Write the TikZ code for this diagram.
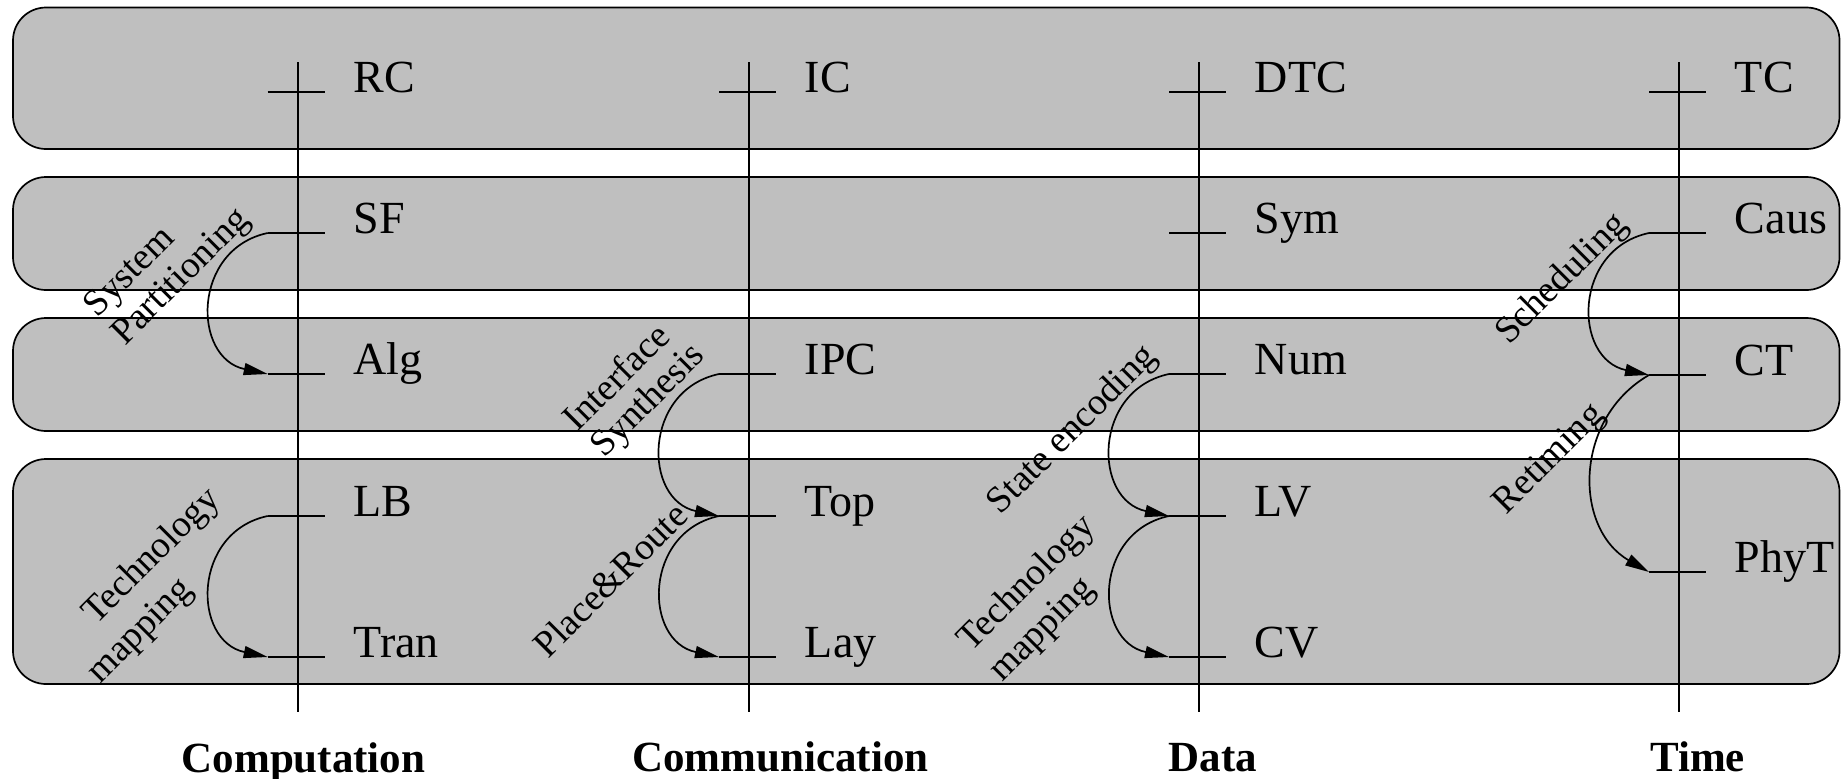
\documentclass[tikz,border=0pt]{standalone}
\usepackage{fontspec}
\setmainfont{Liberation Serif}
\usetikzlibrary{arrows.meta}
\definecolor{bandgray}{RGB}{191,191,191}
\begin{document}
\begin{tikzpicture}[x=0.5pt,y=0.5pt,
  band/.style={draw=black, fill=bandgray, line width=0.85pt, rounded corners=16.5pt},
  axisline/.style={draw=black, line width=0.85pt},
  tickline/.style={draw=black, line width=0.85pt},
  flow/.style={draw=black, line width=0.85pt, -{Triangle[length=12pt,width=6pt]}},
  lbl/.style={anchor=base west, inner sep=0pt, font=\fontsize{23}{27}\selectfont},
  rot/.style={rotate=45, anchor=center, inner sep=0pt, font=\fontsize{18.75}{22}\selectfont},
  dimlbl/.style={anchor=base, inner sep=0pt, font=\fontsize{21.5}{26}\selectfont\bfseries}]
\useasboundingbox (0,0) rectangle (1841,-778);

% bands
\path[band] (13,-7.5) rectangle (1839.5,-149);
\path[band] (13,-177) rectangle (1839.5,-290);
\path[band] (13,-318) rectangle (1839.5,-431);
\path[band] (13,-459) rectangle (1839.5,-684);

% axes
\foreach \n/\x in {comp/297.7, comm/749, data/1199, time/1679} {
  \coordinate (\n-top) at (\x,-62);
  \coordinate (\n-bot) at (\x,-712);
  \draw[axisline] (\n-top) -- (\n-bot);
}

% ticks and labels
\foreach \n/\x/\y in {RC/297.7/92, SF/297.7/233, Alg/297.7/374, LB/297.7/516, Tran/297.7/657,
                      IC/749/92, IPC/749/374, Top/749/516, Lay/749/657,
                      DTC/1199/92, Sym/1199/233, Num/1199/374, LV/1199/516, CV/1199/657,
                      TC/1679/92, Caus/1679/233, CT/1679/375, PhyT/1679/572} {
  \coordinate (\n-a) at (\x-30,-\y);
  \coordinate (\n-b) at (\x+27,-\y);
  \draw[tickline] (\n-a) -- (\n-b);
  \node[lbl] (\n) at (\x+55.5,-\y) {\n};
}

% transformation arrows
\draw[flow] (SF-a)   to[out=192,in=168,looseness=1.41] (Alg-a);
\draw[flow] (LB-a)   to[out=192,in=168,looseness=1.41] (Tran-a);
\draw[flow] (IPC-a)  to[out=192,in=168,looseness=1.41] (Top-a);
\draw[flow] (Top-a)  to[out=192,in=168,looseness=1.41] (Lay-a);
\draw[flow] (Num-a)  to[out=192,in=168,looseness=1.41] (LV-a);
\draw[flow] (LV-a)   to[out=192,in=168,looseness=1.41] (CV-a);
\draw[flow] (Caus-a) to[out=192,in=168,looseness=1.41] (CT-a);
\draw[flow] (CT-a)   to[out=210,in=150,looseness=1.136] (PhyT-a);

% rotated labels
\node[rot] (sys)   at (130.8,-273.3) {System};
\node[rot] (part)  at (182,-277.8) {Partitioning};
\node[rot] (tech1) at (152.5,-557) {Technology};
\node[rot] (map1)  at (141,-631.7) {mapping};
\node[rot] (intf)  at (615.7,-376.2) {Interface};
\node[rot] (synt)  at (649,-401.6) {Synthesis};
\node[rot] (pr)    at (610,-579.5) {Place\&Route};
\node[rot] (se)    at (1073,-430.5) {State encoding};
\node[rot] (tech2) at (1027.5,-584) {Technology};
\node[rot] (map2)  at (1043,-630.5) {mapping};
\node[rot] (sched) at (1562.5,-279.5) {Scheduling};
\node[rot] (ret)   at (1550,-460) {Retiming};

% dimension labels
\node[dimlbl] (dcomp) at (303.5,-772.5) {Computation};
\node[dimlbl] (dcomm) at (780.5,-771) {Communication};
\node[dimlbl] (ddata) at (1213,-771) {Data};
\node[dimlbl] (dtime) at (1697.5,-771) {Time};
\end{tikzpicture}
\end{document}
